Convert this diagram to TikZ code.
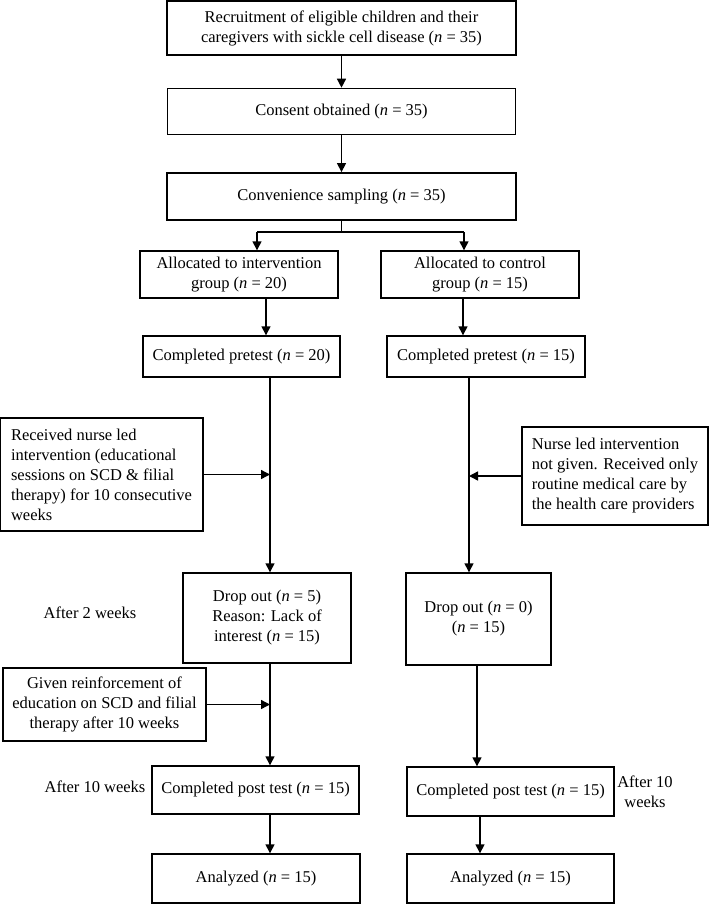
\documentclass[tikz,border=0pt]{standalone}
\usepackage{fontspec}
\setmainfont{Liberation Serif}
\usetikzlibrary{arrows.meta, positioning, calc}

\begin{document}
\begin{tikzpicture}[
    x=1pt, y=-1pt,
    font=\fontsize{16.5}{20}\selectfont,
    fbox/.style={rectangle, draw=black, line width=1.4pt, inner sep=0pt, align=center},
    lbox/.style={fbox, align=left},
    lbl/.style={inner sep=0pt, align=center},
    conn/.style={line width=1.4pt},
    arr/.style={-{Triangle[width=9pt, length=9pt]}, line width=1.4pt}
  ]
  \useasboundingbox (0,0) rectangle (709,918);

  % main column
  \node[fbox, minimum width=349pt, minimum height=54pt] (recruit) at (341.5,28) {Recruitment of eligible children and their\\caregivers with sickle cell disease (\textit{n} = 35)};
  \node[fbox, minimum width=348pt, minimum height=46pt, below=32pt of recruit] (consent) {Consent obtained (\textit{n} = 35)};
  \node[fbox, minimum width=349pt, minimum height=47pt, below=37pt of consent] (conv) {Convenience sampling (\textit{n} = 35)};

  % two arms
  \node[fbox, minimum width=198pt, minimum height=47pt] (allocI) at (239,274.5) {Allocated to intervention\\group (\textit{n} = 20)};
  \node[fbox, minimum width=198pt, minimum height=47pt] (allocC) at (480,274.5) {Allocated to control\\group (\textit{n} = 15)};
  \node[fbox, minimum width=197pt, minimum height=41pt] (preI) at (241.5,356.5) {Completed pretest (\textit{n} = 20)};
  \node[fbox, minimum width=198pt, minimum height=41pt] (preC) at (486,356.5) {Completed pretest (\textit{n} = 15)};

  \node[lbox, minimum width=203pt, minimum height=113pt] (recv) at (101.5,474.5) {Received nurse led\\intervention (educational\\sessions on SCD \& filial\\therapy) for 10 consecutive\\weeks};
  \node[lbox, minimum width=186pt, minimum height=98pt] (nurse) at (615,476) {Nurse led intervention\\not given. Received only\\routine medical care by\\the health care providers};

  \node[fbox, minimum width=168pt, minimum height=90pt] (dropI) at (267,618) {Drop out (\textit{n} = 5)\\Reason: Lack of\\interest (\textit{n} = 15)};
  \node[fbox, minimum width=145pt, minimum height=92pt] (dropC) at (478.5,619) {Drop out (\textit{n} = 0)\\(\textit{n} = 15)};
  \node[lbl] (after2) at (90,613) {After 2 weeks};

  \node[fbox, minimum width=203pt, minimum height=73pt] (reinf) at (104.5,704.5) {Given reinforcement of\\education on SCD and filial\\therapy after 10 weeks};

  \node[fbox, minimum width=207pt, minimum height=48pt] (postI) at (255.5,790) {Completed post test (\textit{n} = 15)};
  \node[fbox, minimum width=207pt, minimum height=49pt] (postC) at (510.5,791.5) {Completed post test (\textit{n} = 15)};
  \node[lbl] (after10I) at (95,787) {After 10 weeks};
  \node[lbl] (after10C) at (645,791.5) {After 10\\weeks};

  \node[fbox, minimum width=208pt, minimum height=49pt] (anaI) at (256,878.5) {Analyzed (\textit{n} = 15)};
  \node[fbox, minimum width=207pt, minimum height=49pt] (anaC) at (510.5,878.5) {Analyzed (\textit{n} = 15)};

  % lanes of the vertical connectors
  \coordinate (splitL) at (257,232);
  \coordinate (splitR) at (464,232);
  \coordinate (xL1) at (266,0);
  \coordinate (xR1) at (463,0);
  \coordinate (xL2) at (270,0);
  \coordinate (xR2) at (469,0);
  \coordinate (xR3) at (477,0);
  \coordinate (xR4) at (480,0);

  \draw[arr] (recruit.south) -- (recruit.south |- consent.north);
  \draw[arr] (consent.south) -- (consent.south |- conv.north);
  \draw[conn] (conv.south) -- (conv.south |- splitL);
  \draw[conn] (splitL) -- (splitR);
  \draw[arr] (splitL) -- (splitL |- allocI.north);
  \draw[arr] (splitR) -- (splitR |- allocC.north);

  \draw[arr] (allocI.south -| xL1) -- (preI.north -| xL1);
  \draw[arr] (allocC.south -| xR1) -- (preC.north -| xR1);
  \draw[arr] (preI.south -| xL2) -- (dropI.north -| xL2);
  \draw[arr] (preC.south -| xR2) -- (dropC.north -| xR2);
  \draw[arr] (recv.east) -- (recv.east -| xL2);
  \draw[arr] (nurse.west) -- (nurse.west -| xR2);

  \draw[arr] (dropI.south -| xL2) -- (postI.north -| xL2);
  \draw[arr] (dropC.south -| xR3) -- (postC.north -| xR3);
  \draw[arr] (reinf.east) -- (reinf.east -| xL2);

  \draw[arr] (postI.south -| xL2) -- (anaI.north -| xL2);
  \draw[arr] (postC.south -| xR4) -- (anaC.north -| xR4);
\end{tikzpicture}
\end{document}
